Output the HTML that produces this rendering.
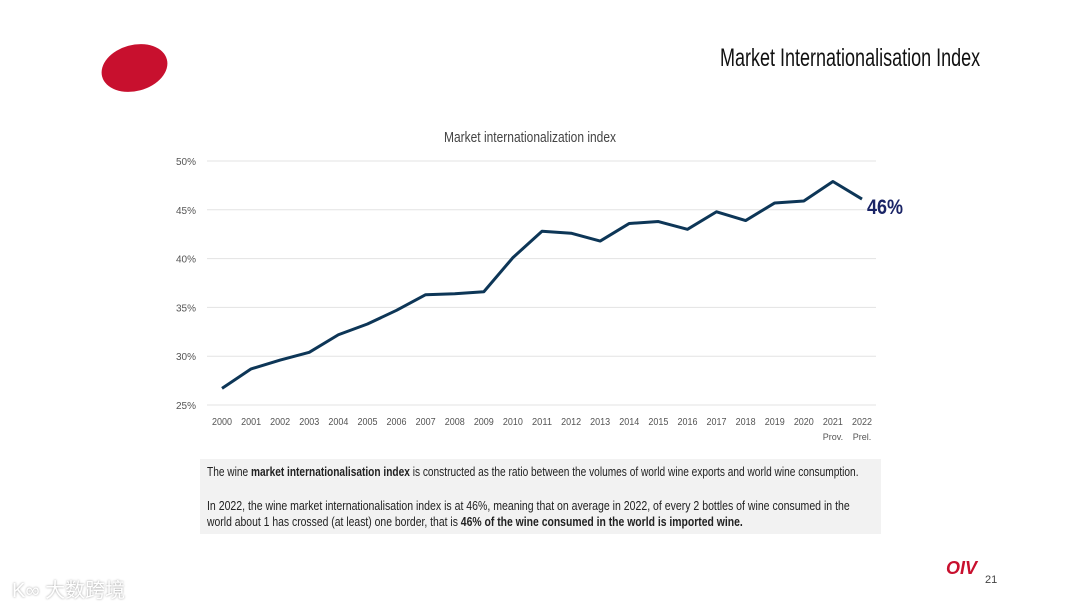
<!DOCTYPE html>
<html><head><meta charset="utf-8"><style>
body{margin:0;width:1080px;height:608px;background:#fff;font-family:"Liberation Sans","Noto Sans CJK SC",sans-serif;overflow:hidden;position:relative}
.t{position:absolute;white-space:nowrap}
</style></head><body>
<div style="position:absolute;left:101px;top:45px;width:67px;height:46px;border-radius:50%;background:#c8102e;transform:rotate(-15deg)"></div>
<div class="t" style="left:720px;top:44px;font-size:25px;color:#111;transform:scaleX(0.72);transform-origin:left top">Market Internationalisation Index</div>
<svg id="chart" width="1080" height="460" style="position:absolute;left:0;top:0"></svg>
<div style="position:absolute;left:200px;top:459px;width:681px;height:75px;background:#f2f2f2"></div>
<div class="t" style="left:207px;top:464px;font-size:13px;color:#222;transform:scaleX(0.78);transform-origin:left top">The wine <b>market internationalisation index</b> is constructed as the ratio between the volumes of world wine exports and world wine consumption.</div>
<div class="t" style="left:207px;top:498px;font-size:13px;color:#222;transform:scaleX(0.81);transform-origin:left top">In 2022, the wine market internationalisation index is at 46%, meaning that on average in 2022, of every 2 bottles of wine consumed in the</div>
<div class="t" style="left:207px;top:514px;font-size:13px;color:#222;transform:scaleX(0.8);transform-origin:left top">world about 1 has crossed (at least) one border, that is <b>46% of the wine consumed in the world is imported wine.</b></div>
<div class="t" style="left:946px;top:558px;font-size:18px;font-weight:bold;font-style:italic;color:#c8102e">OIV</div>
<div class="t" style="left:985px;top:574px;font-size:11px;color:#444">21</div>
<div class="t" style="left:12px;top:574px;font-size:20px;color:#fff;text-shadow:0 0 2px #999">K∞ 大数跨境</div>
<script>
const years=["2000","2001","2002","2003","2004","2005","2006","2007","2008","2009","2010","2011","2012","2013","2014","2015","2016","2017","2018","2019","2020","2021","2022"];
const subLabels={"2021":"Prov.","2022":"Prel."};
const values=[26.7,28.7,29.6,30.4,32.2,33.3,34.7,36.3,36.4,36.6,40.1,42.8,42.6,41.8,43.6,43.8,43.0,44.8,43.9,45.7,45.9,47.9,46.1];
const yTicks=[25,30,35,40,45,50];
const NS="http://www.w3.org/2000/svg",svg=document.getElementById('chart');
const x=i=>222+i*(640/(years.length-1));
const y=v=>405-(v-25)*(244/25);
function mk(t,a,txt){const e=document.createElementNS(NS,t);for(const k in a)e.setAttribute(k,a[k]);if(txt!=null)e.textContent=txt;svg.appendChild(e);return e;}
let e=mk('text',{x:530,y:142,'text-anchor':'middle','font-size':15,fill:'#444',transform:'translate(530 0) scale(0.8 1) translate(-530 0)'},'Market internationalization index');


yTicks.forEach(t=>{
 let g=mk('line',{x1:207,x2:876,y1:y(t),y2:y(t),stroke:'#e3e3e3','stroke-width':1});
 
 
 let l=mk('text',{x:196,y:y(t)+4,'text-anchor':'end','font-size':10,fill:'#555'},t+'%');
 
 
});
years.forEach((yr,i)=>{
 let l=mk('text',{x:x(i),y:425,'text-anchor':'middle','font-size':10,fill:'#555',textLength:20,lengthAdjust:'spacingAndGlyphs'},yr);
 
 
 if(subLabels[yr]){let s=mk('text',{x:x(i),y:440,'text-anchor':'middle','font-size':9,fill:'#555'},subLabels[yr]);
 
 }
});
let p=mk('polyline',{points:values.map((v,i)=>x(i)+','+y(v)).join(' '),fill:'none',stroke:'#0d3657','stroke-width':3,'stroke-linejoin':'round'});


let lab=mk('text',{x:867,y:y(values[values.length-1])+15,'font-size':21,'font-weight':'bold',fill:'#1a2466',textLength:36,lengthAdjust:'spacingAndGlyphs'},Math.round(values[values.length-1])+'%');


</script>
</body></html>
